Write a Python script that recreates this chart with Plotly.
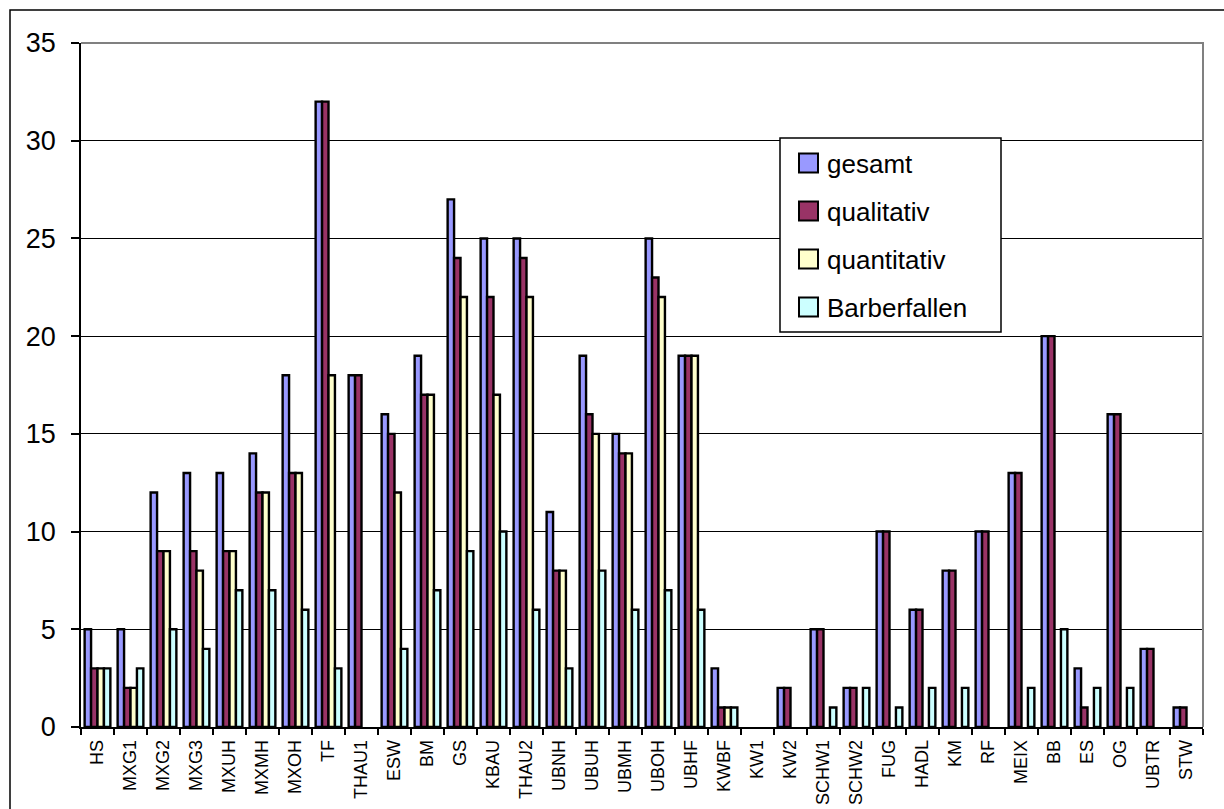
import plotly.graph_objects as go

# Categories (sampling sites) along the x axis
sites = ["HS", "MXG1", "MXG2", "MXG3", "MXUH", "MXMH", "MXOH", "TF", "THAU1", "ESW",
         "BM", "GS", "KBAU", "THAU2", "UBNH", "UBUH", "UBMH", "UBOH", "UBHF", "KWBF",
         "KW1", "KW2", "SCHW1", "SCHW2", "FUG", "HADL", "KM", "RF", "MEIX", "BB",
         "ES", "OG", "UBTR", "STW"]

# Species counts per method (None = no value recorded)
gesamt = [5, 5, 12, 13, 13, 14, 18, 32, 18, 16,
          19, 27, 25, 25, 11, 19, 15, 25, 19, 3,
          None, 2, 5, 2, 10, 6, 8, 10, 13, 20,
          3, 16, 4, 1]
qualitativ = [3, 2, 9, 9, 9, 12, 13, 32, 18, 15,
              17, 24, 22, 24, 8, 16, 14, 23, 19, 1,
              None, 2, 5, 2, 10, 6, 8, 10, 13, 20,
              1, 16, 4, 1]
quantitativ = [3, 2, 9, 8, 9, 12, 13, 18, None, 12,
               17, 22, 17, 22, 8, 15, 14, 22, 19, 1,
               None, None, None, None, None, None, None, None, None, None,
               None, None, None, None]
barberfallen = [3, 3, 5, 4, 7, 7, 6, 3, None, 4,
                7, 9, 10, 6, 3, 8, 6, 7, 6, 1,
                None, None, 1, 2, 1, 2, 2, None, 2, 5,
                2, 2, None, None]

y_ticks = [0, 5, 10, 15, 20, 25, 30, 35]

series_names = ["gesamt", "qualitativ", "quantitativ", "Barberfallen"]
series_values = [gesamt, qualitativ, quantitativ, barberfallen]
series_colors = ["#9999FF", "#993366", "#FFFFCC", "#CCFFFF"]

FONT = "Liberation Sans, Arial, sans-serif"

fig = go.Figure()
for name, vals, color in zip(series_names, series_values, series_colors):
    fig.add_trace(go.Bar(
        x=sites, y=vals, name=name, showlegend=False,
        marker=dict(color=color, line=dict(color="black", width=2.4)),
    ))

# plot-area geometry in pixels
W, H = 1224, 809
L, R, T, B = 81, 1203, 43, 727
pw, ph = R - L, B - T


def px(xp):
    return (xp - L) / pw


def py(yp):
    return (B - yp) / ph


shapes = [
    # outer chart frame
    dict(type="rect", xref="paper", yref="paper",
         x0=px(10), x1=px(1230), y0=py(815), y1=py(10),
         line=dict(color="black", width=1.5), layer="below"),
    # grey plot-area border (top and right)
    dict(type="path", xref="paper", yref="paper",
         path="M 0,1 L 1,1 L 1,0",
         line=dict(color="#808080", width=2), layer="above"),
    # legend box
    dict(type="rect", xref="paper", yref="paper",
         x0=px(780), x1=px(1001), y0=py(332), y1=py(138),
         line=dict(color="black", width=1.5), fillcolor="white", layer="above"),
]

annotations = []
row_centres = [163, 211, 259, 307]
for name, color, yc in zip(series_names, series_colors, row_centres):
    shapes.append(dict(
        type="rect", xref="paper", yref="paper",
        x0=px(799), x1=px(818), y0=py(yc + 9.5), y1=py(yc - 9.5),
        line=dict(color="black", width=2), fillcolor=color, layer="above",
    ))
    annotations.append(dict(
        xref="paper", yref="paper", x=px(825), y=py(yc + 1),
        xanchor="left", yanchor="middle", showarrow=False,
        text=name, font=dict(size=26, family=FONT, color="black"),
    ))

fig.update_layout(
    width=W, height=H,
    margin=dict(l=L, r=W - R, t=T, b=H - B, pad=0),
    paper_bgcolor="white", plot_bgcolor="white",
    barmode="group", bargap=0.22, bargroupgap=0,
    font=dict(family=FONT, color="black"),
    showlegend=False,
    shapes=shapes,
    annotations=annotations,
    xaxis=dict(
        type="category", tickangle=-90, automargin=False,
        tickfont=dict(size=18, family=FONT, color="black"),
        showline=True, linecolor="black", linewidth=1.5,
        ticks="outside", tickson="boundaries", ticklen=6, tickcolor="black", tickwidth=1.5,
        showgrid=False, ticklabelstandoff=4,
    ),
    yaxis=dict(
        range=[0, 35], tickvals=y_ticks, automargin=False,
        tickfont=dict(size=27, family=FONT, color="black"),
        showline=True, linecolor="black", linewidth=1.5,
        ticks="outside", ticklen=8, tickcolor="black", tickwidth=1.5,
        showgrid=True, gridcolor="black", gridwidth=1,
        zeroline=False, ticklabelstandoff=10,
    ),
)

fig.write_html("out.html")
